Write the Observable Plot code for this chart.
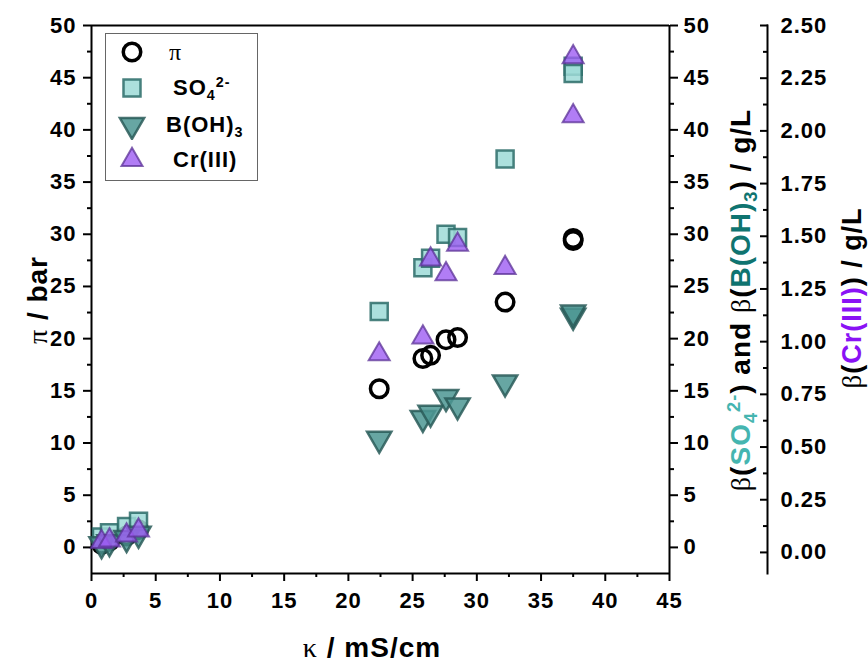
<!DOCTYPE html>
<html><head><meta charset="utf-8">
<script src="https://cdn.jsdelivr.net/npm/d3@7"></script>
<script src="https://cdn.jsdelivr.net/npm/@observablehq/plot@0.6"></script>
<style>
body{margin:0;background:#fff;}
#wrap{position:relative;width:868px;height:664px;overflow:hidden;font-family:"Liberation Sans",Arial,sans-serif;font-weight:bold;color:#000;}
.layer{position:absolute;left:0;top:0;}
.title{position:absolute;white-space:nowrap;font-size:28px;letter-spacing:1px;line-height:1;}
.g{font-family:"Liberation Serif","Times New Roman",serif;font-weight:normal;}
.rot{transform:translate(-50%,-50%) rotate(-90deg);}
.hor{transform:translate(-50%,-50%);}
sub,sup{font-size:0.65em;line-height:0;}
.legend{position:absolute;left:105px;top:33px;width:153px;height:148px;border:1px solid #666;box-sizing:border-box;background:#fff;font-size:22px;letter-spacing:1px;}
.legend .item{position:absolute;left:0;height:30px;width:150px;}
.legend svg{position:absolute;left:11px;top:0;}
.legend .lab{position:absolute;top:50%;transform:translateY(-50%);white-space:nowrap;line-height:1;}
</style>
</head><body>
<div id="wrap">
  <div id="a" class="layer"></div>
  <div id="b" class="layer"></div>
  <div class="legend" id="legend"></div>
  <div class="title rot" style="left:38px;top:300px"><span class="g">π</span> / bar</div>
  <div class="title hor" style="left:372px;top:648px"><span class="g">κ</span> / mS/cm</div>
  <div class="title rot" style="left:741px;top:300px"><span class="g">β</span>(<span style="color:#45b5b0">SO<sub>4</sub><sup>2-</sup></span>) and <span class="g">β</span>(<span style="color:#0f7470">B(OH)<sub>3</sub></span>) / g/L</div>
  <div class="title rot" style="left:852px;top:298px;font-size:27px"><span class="g">β</span>(<span style="color:#8a12f5">Cr(III)</span>) / g/L</div>
</div>
<script>
// ---- data ----
const kappa = [0.78, 1.40, 2.73, 3.66, 22.4, 25.8, 26.4, 27.6, 28.5, 32.2, 37.5, 37.5];   // mS/cm
const piBar = [0.3, 0.6, 1.1, 1.7, 15.2, 18.1, 18.4, 19.9, 20.1, 23.5, 29.4, 29.6];       // bar
const so4 = [1.0, 1.4, 2.0, 2.5, 22.6, 26.8, 27.7, 30.0, 29.7, 37.2, 46.1, 45.4];         // g/L
const boh3 = [0.3, 0.5, 0.9, 1.3, 10.4, 12.4, 12.9, 14.4, 13.6, 15.8, 22.2, 22.5];        // g/L
const cr3 = [0.05, 0.057, 0.081, 0.104, 0.94, 1.02, 1.39, 1.32, 1.46, 1.35, 2.35, 2.07];  // g/L

// ---- ticks ----
const xTicks = [0, 5, 10, 15, 20, 25, 30, 35, 40, 45];
const xMinorTicks = [2.5, 7.5, 12.5, 17.5, 22.5, 27.5, 32.5, 37.5, 42.5];
const yTicks = [0, 5, 10, 15, 20, 25, 30, 35, 40, 45, 50];
const yMinorTicks = [2.5, 7.5, 12.5, 17.5, 22.5, 27.5, 32.5, 37.5, 42.5, 47.5];
const crTicks = [0, 0.25, 0.5, 0.75, 1, 1.25, 1.5, 1.75, 2, 2.25, 2.5];
const crMinorTicks = [0.125, 0.375, 0.625, 0.875, 1.125, 1.375, 1.625, 1.875, 2.125, 2.375];

const xDomain = [0, 45];
const yDomain = [-2.5, 50];
const crDomain = [-0.1, 2.5];

const rows = kappa.map((k, i) => ({k, pi: piBar[i], so4: so4[i], boh3: boh3[i], cr: cr3[i]}));

// downward triangle symbol (mirror of d3.symbolTriangle)
const triDown = {
  draw(context, size) {
    const y = -Math.sqrt(size / (Math.sqrt(3) * 3));
    context.moveTo(0, -y * 2);
    context.lineTo(-Math.sqrt(3) * y, y);
    context.lineTo(Math.sqrt(3) * y, y);
    context.closePath();
  }
};

const S = {
  pi: {r: 8.75, stroke: "#000", strokeWidth: 3.5, fill: "none"},
  so4: {r: 9.6, fill: "#9edbd7", fillOpacity: 0.85, stroke: "#2c6c69", strokeOpacity: 0.85, strokeWidth: 2.5},
  boh3: {r: 9.0, fill: "#4c9793", fillOpacity: 0.85, stroke: "#2a5c59", strokeOpacity: 0.85, strokeWidth: 2.5},
  cr: {r: 7.8, fill: "#9d5cf2", fillOpacity: 0.8, stroke: "#5b3196", strokeOpacity: 0.75, strokeWidth: 2}
};

const W = 868, H = 664, mT = 25, mB = 91, mL = 91;
const baseStyle = {fontFamily: "'Liberation Sans', Arial, sans-serif", fontSize: "22px", fontWeight: "bold", color: "#000", background: "transparent", letterSpacing: "1px", overflow: "visible"};

const plotA = Plot.plot({
  width: W, height: H, marginTop: mT, marginBottom: mB, marginLeft: mL, marginRight: 199,
  x: {domain: xDomain},
  y: {domain: yDomain},
  style: baseStyle,
  marks: [
    Plot.ruleX([xDomain[0]], {strokeWidth: 2}),
    Plot.ruleX([xDomain[1]], {strokeWidth: 2}),
    Plot.ruleY([yDomain[0]], {strokeWidth: 2}),
    Plot.ruleY([yDomain[1]], {strokeWidth: 2}),
    Plot.axisX(xTicks, {tickSize: 8, tickPadding: 11, strokeWidth: 2, label: null}),
    Plot.axisX(xMinorTicks, {tickSize: 4, tickFormat: () => "", strokeWidth: 2, label: null}),
    Plot.axisY(yTicks, {anchor: "left", tickSize: 8, tickPadding: 7, strokeWidth: 2, label: null}),
    Plot.axisY(yMinorTicks, {anchor: "left", tickSize: 4, tickFormat: () => "", strokeWidth: 2, label: null}),
    Plot.axisY(yTicks, {anchor: "right", tickSize: 8, tickPadding: 6, strokeWidth: 2, label: null}),
    Plot.axisY(yMinorTicks, {anchor: "right", tickSize: 4, tickFormat: () => "", strokeWidth: 2, label: null}),
    Plot.dot(rows, {x: "k", y: "pi", symbol: "circle", ...S.pi}),
    Plot.dot(rows, {x: "k", y: "so4", symbol: "square", ...S.so4}),
    Plot.dot(rows, {x: "k", y: "boh3", symbol: triDown, ...S.boh3})
  ]
});
document.getElementById("a").appendChild(plotA);

const plotB = Plot.plot({
  width: W, height: H, marginTop: mT, marginBottom: mB, marginLeft: mL, marginRight: 101,
  x: {domain: xDomain, range: [mL, 669], axis: null},
  y: {domain: crDomain, axis: null},
  style: baseStyle,
  marks: [
    Plot.frame({anchor: "right", strokeWidth: 2}),
    Plot.axisY(crTicks, {anchor: "right", tickSize: -8, tickPadding: 21, strokeWidth: 2, tickFormat: d => d.toFixed(2), label: null}),
    Plot.axisY(crMinorTicks, {anchor: "right", tickSize: -5, tickFormat: () => "", strokeWidth: 2, label: null}),
    Plot.dot(rows, {x: "k", y: "cr", symbol: "triangle", ...S.cr})
  ]
});
document.getElementById("b").appendChild(plotB);

// ---- legend ----
const legendItems = [
  {key: "pi", sym: d3.symbolCircle, html: '<span class="g" style="font-size:24px">π</span>', tx: 63, cy: 19},
  {key: "so4", sym: d3.symbolSquare, html: 'SO<sub>4</sub><sup>2-</sup>', tx: 67, cy: 55},
  {key: "boh3", sym: triDown, html: 'B(OH)<sub>3</sub>', tx: 60, cy: 92},
  {key: "cr", sym: d3.symbolTriangle, html: 'Cr(III)', tx: 67, cy: 127}
];
const leg = d3.select("#legend");
legendItems.forEach(it => {
  const s = S[it.key];
  const div = leg.append("div").attr("class", "item").style("top", (it.cy - 15 - 1) + "px");
  const svg = div.append("svg").attr("width", 30).attr("height", 30);
  svg.append("path")
    .attr("transform", "translate(15,15)")
    .attr("d", d3.symbol(it.sym, Math.PI * s.r * s.r)())
    .attr("fill", s.fill)
    .attr("fill-opacity", s.fillOpacity ?? 1)
    .attr("stroke", s.stroke)
    .attr("stroke-opacity", s.strokeOpacity ?? 1)
    .attr("stroke-width", s.strokeWidth);
  div.append("div").attr("class", "lab").style("left", it.tx + "px").html(it.html);
});
</script>
</body></html>
